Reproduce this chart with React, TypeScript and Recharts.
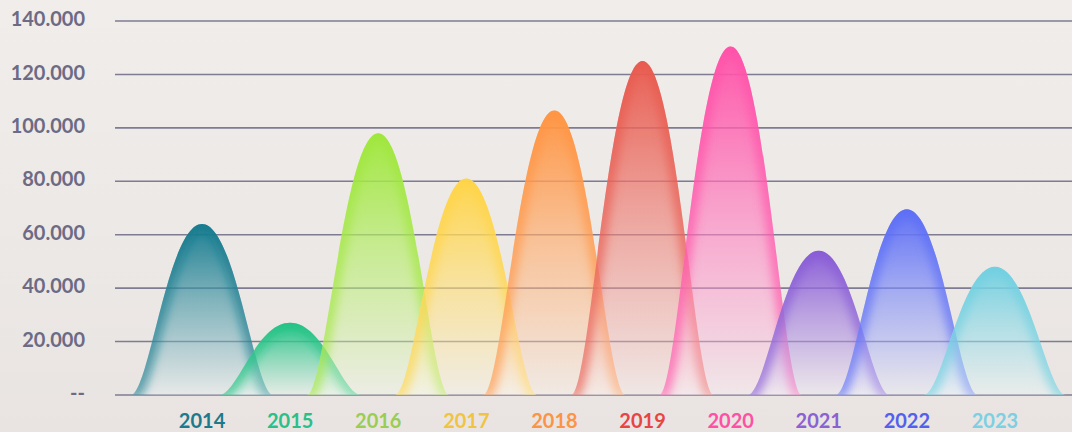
import React from 'react';
import { BarChart, Bar, XAxis, YAxis, CartesianGrid } from 'recharts';

const years = ['2014', '2015', '2016', '2017', '2018', '2019', '2020', '2021', '2022', '2023'];
const visitors = [64000, 27000, 98000, 81000, 106500, 125000, 130500, 54000, 69500, 48000];
const yTicks = [0, 20000, 40000, 60000, 80000, 100000, 120000, 140000];

const COLORS = ['#137a8e', '#1ec283', '#9ee73a', '#ffd445', '#ff9340', '#e8584c', '#ff4fa7', '#8759d6', '#5a6cf6', '#6fcfe0'];
const LABEL_COLORS = ['#1d7a8c', '#2bc088', '#9bcd52', '#f0c441', '#fb9445', '#e84444', '#ff50a3', '#8a62d2', '#5360ee', '#7dcfe2'];

const data = years.map((year, i) => ({ year, value: visitors[i] }));

const fmt = (v: number) => (v === 0 ? '--' : `${v / 1000}.000`);

const bellPath = (cx: number, top: number, base: number, W: number, closed: boolean) => {
  const a = 0.26;
  const b = 0.52;
  const d =
    `M${cx - W},${base} C${cx - W + a * W},${base} ${cx - W + b * W},${top} ${cx},${top} ` +
    `C${cx + W - b * W},${top} ${cx + W - a * W},${base} ${cx + W},${base}`;
  return closed ? d + ' Z' : d;
};

const Bell = (props: any) => {
  const { x, y, width, height, index } = props;
  if (!height) return null;
  const cx = x + width / 2;
  const W = width * 0.81;
  const base = y + height;
  const d = bellPath(cx, y, base, W, true);
  const rim = bellPath(cx, y, base, W, false);
  const color = COLORS[index];
  return (
    <g>
      <defs>
        <clipPath id={`clip${index}`}>
          <path d={d} />
        </clipPath>
      </defs>
      <path d={d} fill="#ffffff" fillOpacity={0.3} />
      <path d={d} fill={`url(#vert${index})`} />
      <g clipPath={`url(#clip${index})`}>
        <path d={rim} fill="none" stroke={color} strokeWidth={14} strokeOpacity={0.65} filter="url(#soft)" />
      </g>
    </g>
  );
};

const XTick = (props: any) => {
  const { x, y, payload, index } = props;
  return (
    <text x={x} y={y} dy={25} textAnchor="middle" fill={LABEL_COLORS[index]} fontSize={20} fontWeight={700} fontFamily="Lato, sans-serif">
      {payload.value}
    </text>
  );
};

export default function App() {
  return (
    <div
      style={{
        position: 'absolute',
        left: 0,
        top: 0,
        width: 1072,
        height: 432,
        background: 'linear-gradient(180deg, #f0edea 0%, #ece8e5 60%, #e9e4e1 100%)',
      }}
    >
      <BarChart width={1072} height={432} data={data} margin={{ top: 21, right: 0, bottom: 0, left: 0 }} barCategoryGap="0%">
        <defs>
          <filter id="soft" x="-20%" y="-20%" width="140%" height="140%">
            <feGaussianBlur stdDeviation="5" />
          </filter>
          {COLORS.map((c, i) => (
            <linearGradient key={c} id={`vert${i}`} x1="0" y1="0" x2="0" y2="1">
              <stop offset="0%" stopColor={c} stopOpacity={0.95} />
              <stop offset="45%" stopColor={c} stopOpacity={0.5} />
              <stop offset="100%" stopColor={c} stopOpacity={0.04} />
            </linearGradient>
          ))}
        </defs>
        <CartesianGrid vertical={false} stroke="#7e7b93" strokeWidth={1.6} />
        <XAxis
          dataKey="year"
          axisLine={false}
          tickLine={false}
          height={37}
          padding={{ left: 43, right: 33 }}
          tick={<XTick />}
          interval={0}
        />
        <YAxis
          domain={[0, 140000]}
          ticks={yTicks}
          width={115}
          axisLine={false}
          tickLine={false}
          tickSize={0}
          tickMargin={30}
          tickFormatter={fmt}
          tick={{ fill: '#6c6a84', fontSize: 20, fontWeight: 700, fontFamily: 'Lato, sans-serif', dy: -2 }}
        />
        <Bar dataKey="value" shape={<Bell />} isAnimationActive={false} />
      </BarChart>
    </div>
  );
}
